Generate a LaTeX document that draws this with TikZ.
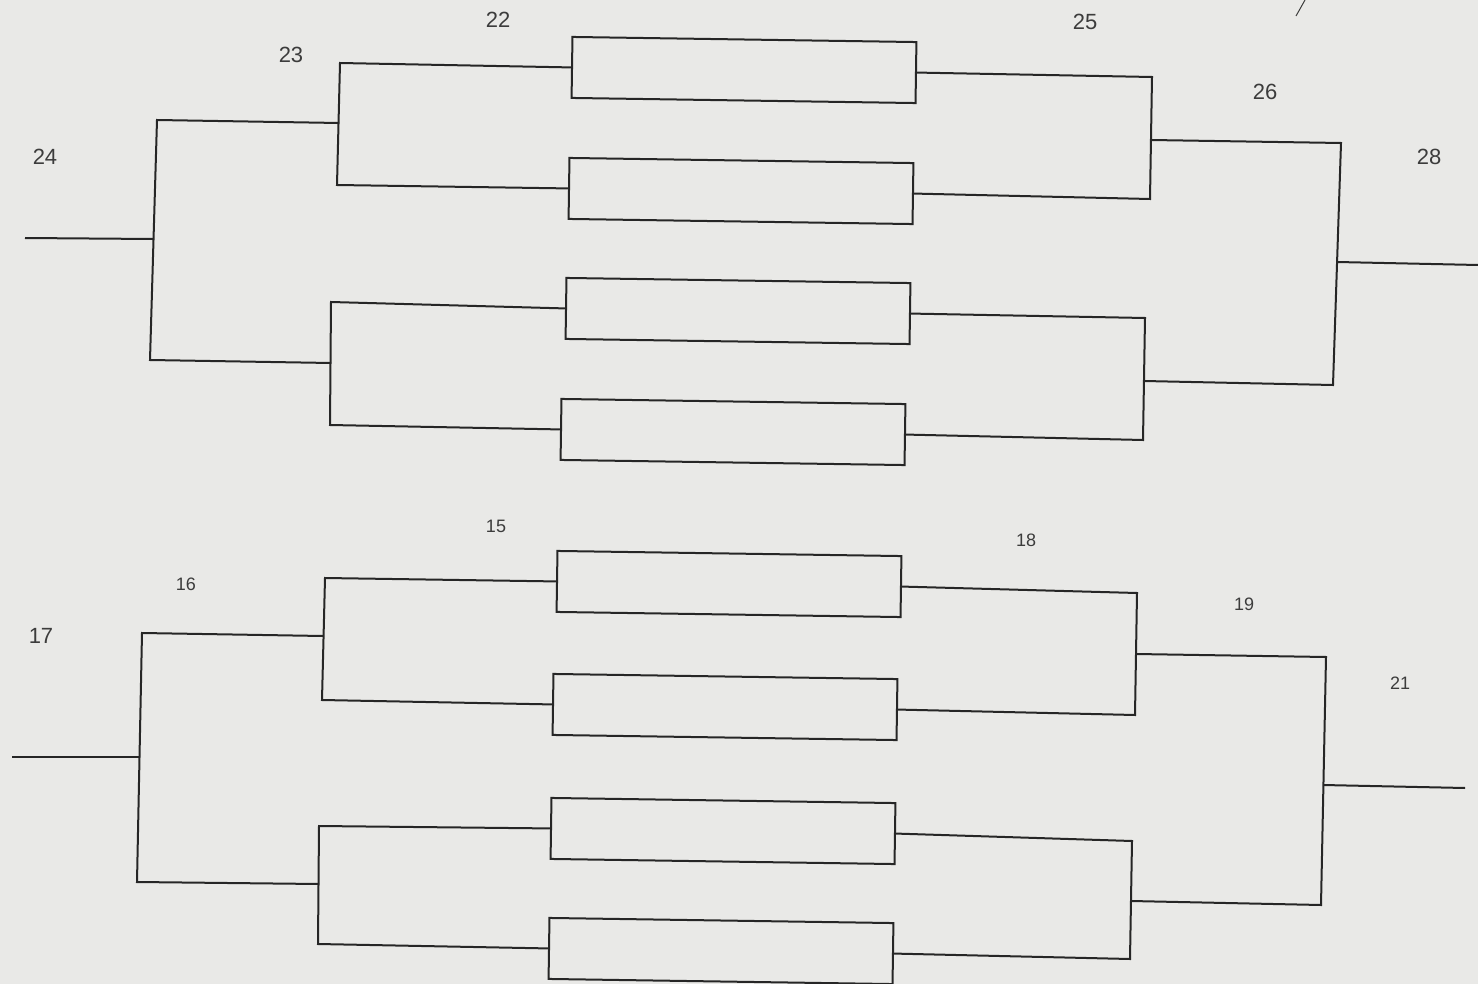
\documentclass[tikz,border=0pt]{standalone}
\usepackage{fontspec}
\setmainfont{Liberation Sans}
\definecolor{paper}{RGB}{233,233,231}
\definecolor{ink}{RGB}{38,38,38}
\definecolor{pencil}{RGB}{60,60,60}
\begin{document}
\begin{tikzpicture}[x=0.5pt,y=-0.5pt,
  slot/.style={draw=ink,line width=1pt,rectangle,minimum width=172pt,minimum height=30.5pt,inner sep=0pt,rotate=-0.85},
  br/.style={draw=ink,line width=1pt,line join=miter},
  lab/.style={text=pencil,font=\fontsize{11}{11}\selectfont,inner sep=0pt},
  labs/.style={text=pencil,font=\fontsize{9}{9}\selectfont,inner sep=0pt}]
\fill[paper] (0,0) rectangle (1478,984);
\useasboundingbox (0,0) rectangle (1478,984);
% slots
\node[slot] (b1) at (744,70) {};
\node[slot] (b2) at (741,191) {};
\node[slot] (b3) at (738,311) {};
\node[slot] (b4) at (733,432) {};
\node[slot] (b5) at (729,584) {};
\node[slot] (b6) at (725,707) {};
\node[slot] (b7) at (723,831) {};
\node[slot] (b8) at (721,951) {};
% top-left corners
\coordinate (a1) at (340,63);  \coordinate (a2) at (337,185); \coordinate (cA) at (339,123);
\coordinate (b1c) at (331,302); \coordinate (b2c) at (330,425); \coordinate (cB) at (331,363);
\coordinate (ab1) at (157,120); \coordinate (ab2) at (150,360); \coordinate (cAB) at (153,239);
\coordinate (oL1) at (25,238);
% top-right corners
\coordinate (c1) at (1152,77); \coordinate (c2) at (1150,199); \coordinate (cC) at (1151,140);
\coordinate (d1) at (1145,318); \coordinate (d2) at (1143,440); \coordinate (cD) at (1144,381);
\coordinate (cd1) at (1341,143); \coordinate (cd2) at (1333,385); \coordinate (cCD) at (1337,262);
\coordinate (oR1) at (1478,265);
% bottom-left corners
\coordinate (e1) at (325,578); \coordinate (e2) at (322,700); \coordinate (cE) at (323,636);
\coordinate (f1) at (319,826); \coordinate (f2) at (318,944); \coordinate (cF) at (319,884);
\coordinate (ef1) at (142,633); \coordinate (ef2) at (137,882); \coordinate (cEF) at (139,757);
\coordinate (oL2) at (12,757);
% bottom-right corners
\coordinate (g1) at (1137,593); \coordinate (g2) at (1135,715); \coordinate (cG) at (1136,654);
\coordinate (h1) at (1132,841); \coordinate (h2) at (1130,959); \coordinate (cH) at (1131,901);
\coordinate (gh1) at (1326,657); \coordinate (gh2) at (1321,905); \coordinate (cGH) at (1323,785);
\coordinate (oR2) at (1465,788);
% top bracket
\draw[br] (b1.west) -- (a1) -- (a2) -- (b2.west);
\draw[br] (b3.west) -- (b1c) -- (b2c) -- (b4.west);
\draw[br] (cA) -- (ab1) -- (ab2) -- (cB);
\draw[br] (cAB) -- (oL1);
\draw[br] (b1.east) -- (c1) -- (c2) -- (b2.east);
\draw[br] (b3.east) -- (d1) -- (d2) -- (b4.east);
\draw[br] (cC) -- (cd1) -- (cd2) -- (cD);
\draw[br] (cCD) -- (oR1);
% bottom bracket
\draw[br] (b5.west) -- (e1) -- (e2) -- (b6.west);
\draw[br] (b7.west) -- (f1) -- (f2) -- (b8.west);
\draw[br] (cE) -- (ef1) -- (ef2) -- (cF);
\draw[br] (cEF) -- (oL2);
\draw[br] (b5.east) -- (g1) -- (g2) -- (b6.east);
\draw[br] (b7.east) -- (h1) -- (h2) -- (b8.east);
\draw[br] (cG) -- (gh1) -- (gh2) -- (cH);
\draw[br] (cGH) -- (oR2);
% labels
\node[lab] (l22) at (498,20) {22};
\node[lab] (l23) at (291,55) {23};
\node[lab] (l24) at (45,157) {24};
\node[lab] (l25) at (1085,22) {25};
\node[lab] (l26) at (1265,92) {26};
\node[lab] (l28) at (1429,157) {28};
\node[labs] (l15) at (496,526) {15};
\node[labs] (l16) at (186,584) {16};
\node[lab] (l17) at (41,636) {17};
\node[labs] (l18) at (1026,540) {18};
\node[labs] (l19) at (1244,604) {19};
\node[labs] (l21) at (1400,683) {21};
% stray pen mark
\draw[draw=pencil,line width=0.5pt] (1296,16) -- (1305,0);
\end{tikzpicture}
\end{document}
